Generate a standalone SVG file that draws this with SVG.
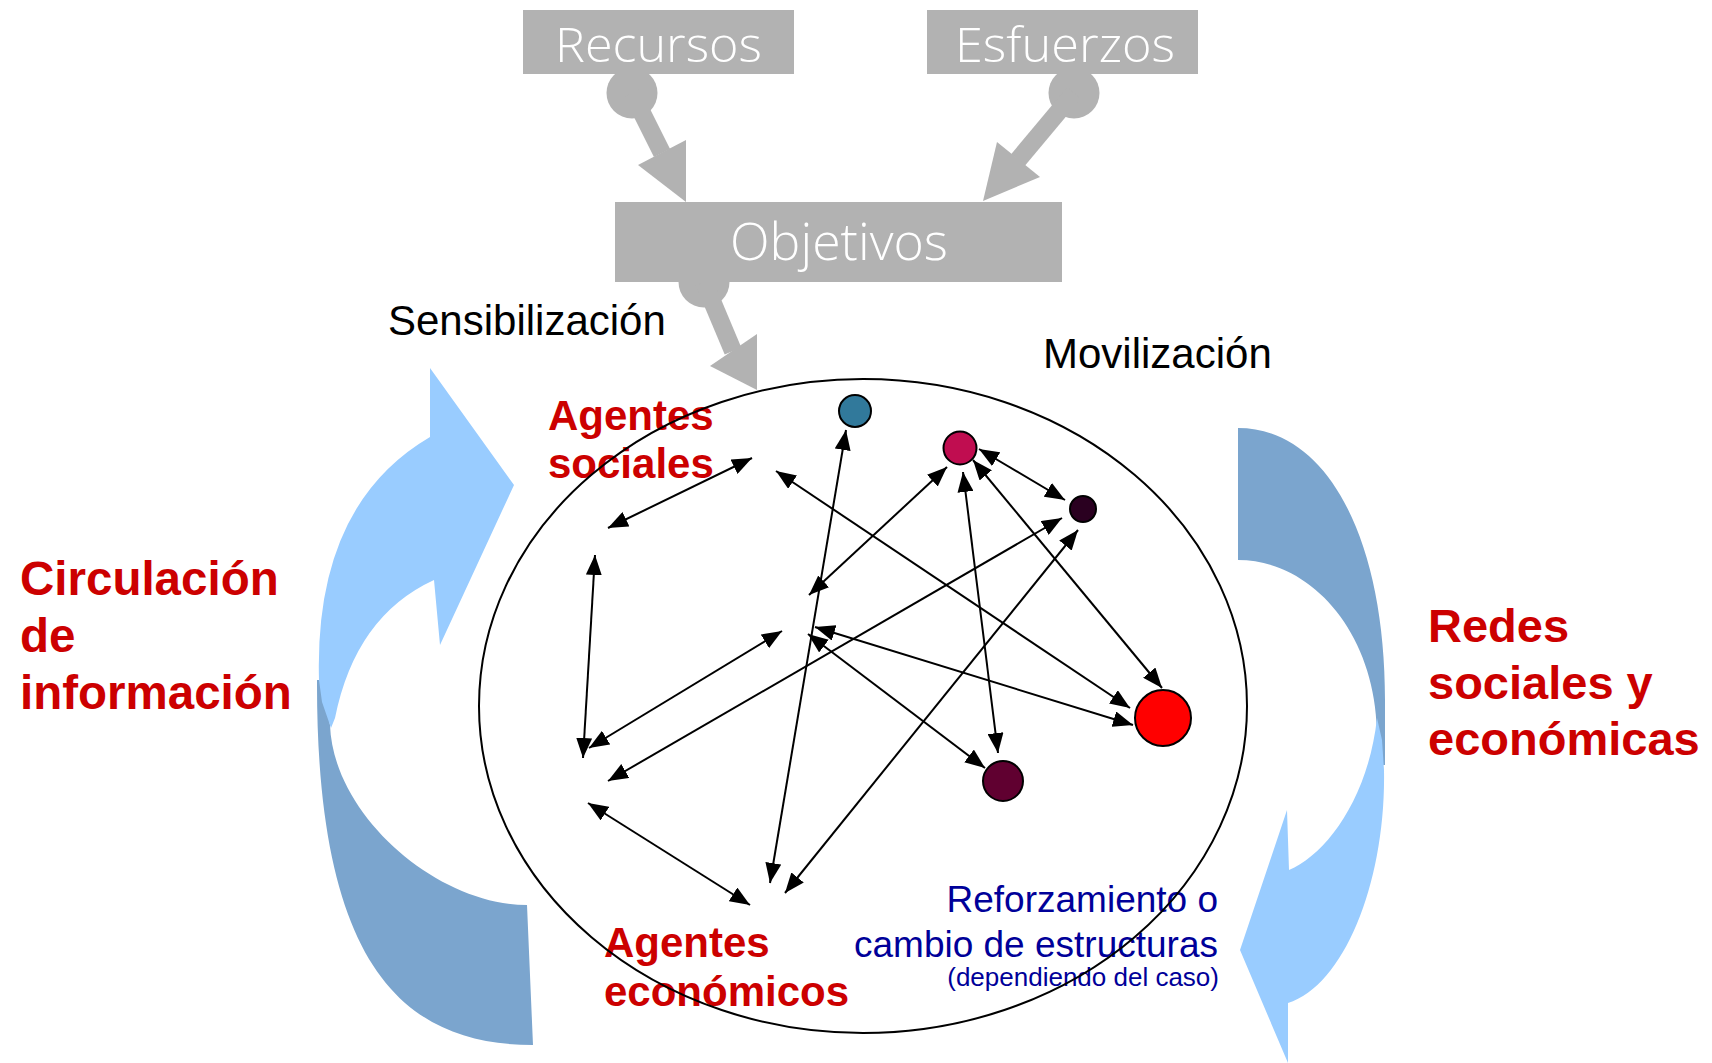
<svg xmlns="http://www.w3.org/2000/svg" width="1712" height="1063" viewBox="0 0 1712 1063">
<defs>
<style>
.box{fill:#B2B2B2}
.boxtxt{font-family:"Open Sans","Liberation Sans",sans-serif;font-weight:300;fill:#FFFFFF;text-anchor:middle}
.gshaft{stroke:#B2B2B2;stroke-width:18;fill:none}
.gfill{fill:#B2B2B2}
.red{font-family:"Liberation Sans",Arial,sans-serif;font-weight:bold;fill:#CC0000}
.blk{font-family:"Liberation Sans",Arial,sans-serif;fill:#000000;font-size:42px}
.blue{font-family:"Liberation Sans",Arial,sans-serif;fill:#000099;text-anchor:end}
.edge{stroke:#000;stroke-width:2;fill:none;marker-start:url(#ah);marker-end:url(#ah)}
.node{stroke:#000;stroke-width:2}
.light{fill:#99CCFF}
.dark{fill:#7BA5CE}
</style>
<marker id="ah" viewBox="0 0 20 16" refX="20" refY="8" markerWidth="20" markerHeight="16" markerUnits="userSpaceOnUse" orient="auto-start-reverse">
<path d="M0,0 L20,8 L0,16 Z" fill="#000"/>
</marker>
</defs>
<rect width="1712" height="1063" fill="#FFFFFF"/>

<g id="cycle-left">
<path class="dark" d="M317,680 L317,685 C317,965 403,1045 533,1045 L527,905 C437,905 333,815 330,725 L322,680 Z"/>
<path class="light" d="M331,728 L322,702 L319,680 Q314,505 430,437 L430,368 L514,485 L440,645 L434,580 Q355.5,616 335,718 Z"/>
</g>
<g id="cycle-right">
<path class="dark" d="M1238,428 C1328,428 1385,540 1385,700 L1385,765 L1380,765 L1377,730 C1374,630 1310,560 1238,560 Z"/>
<path class="light" d="M1377,718 L1382,740 L1384,770 C1386,880 1345,985 1288,1003 L1288,1063 L1240,950 L1287,810 L1289,870 C1325,855 1368,800 1377,718 Z"/>
</g>

<g id="gray-connectors">
<circle class="gfill" cx="632" cy="93" r="25.5"/>
<line class="gshaft" x1="632" y1="93" x2="662" y2="153"/>
<polygon class="gfill" points="686,202 638,165 686,140"/>
<circle class="gfill" cx="1074" cy="93" r="25.5"/>
<line class="gshaft" x1="1074" y1="93" x2="1018" y2="160"/>
<polygon class="gfill" points="983,201 997,142 1040,177"/>
<circle class="gfill" cx="704" cy="282" r="25.5"/>
<line class="gshaft" x1="704" y1="282" x2="733" y2="351"/>
<polygon class="gfill" points="757,390 710,366 757,334"/>
</g>

<g id="recursos">
<rect class="box" x="523" y="10" width="271" height="64"/>
<text class="boxtxt" x="658.5" y="62" font-size="48" textLength="207" lengthAdjust="spacingAndGlyphs">Recursos</text>
</g>
<g id="esfuerzos">
<rect class="box" x="927" y="10" width="271" height="64"/>
<text class="boxtxt" x="1065" y="62" font-size="48" textLength="220" lengthAdjust="spacingAndGlyphs">Esfuerzos</text>
</g>
<g id="objetivos">
<rect class="box" x="615" y="202" width="447" height="80"/>
<text class="boxtxt" x="839" y="260" font-size="52" textLength="218" lengthAdjust="spacingAndGlyphs">Objetivos</text>
</g>

<g id="labels">
<text class="blk" x="388" y="335">Sensibilización</text>
<text class="blk" x="1043" y="368">Movilización</text>
<text class="red" font-size="47.5"><tspan x="20" y="595">Circulación</tspan><tspan x="20" y="652">de</tspan><tspan x="20" y="709">información</tspan></text>
<text class="red" font-size="47"><tspan x="1428" y="642">Redes</tspan><tspan x="1428" y="699">sociales y</tspan><tspan x="1428" y="755">económicas</tspan></text>
<text class="red" font-size="42"><tspan x="548" y="430">Agentes</tspan><tspan x="548" y="478">sociales</tspan></text>
<text class="red" font-size="42"><tspan x="604" y="957">Agentes</tspan><tspan x="604" y="1006">económicos</tspan></text>
<text class="blue" font-size="37"><tspan x="1218" y="912">Reforzamiento o</tspan><tspan x="1218" y="957">cambio de estructuras</tspan></text>
<text class="blue" font-size="26" x="1219" y="986">(dependiendo del caso)</text>
</g>

<g id="ambito">
<ellipse cx="863" cy="706" rx="384" ry="327" fill="none" stroke="#000" stroke-width="2"/>
</g>

<g id="connectors">
<line class="edge" x1="846" y1="430" x2="770" y2="883"/>
<line class="edge" x1="979" y1="449" x2="1065" y2="500"/>
<line class="edge" x1="973" y1="460" x2="1162" y2="688"/>
<line class="edge" x1="963" y1="472" x2="998" y2="753"/>
<line class="edge" x1="947" y1="467" x2="809" y2="595"/>
<line class="edge" x1="776" y1="471" x2="1130" y2="708"/>
<line class="edge" x1="815" y1="627" x2="1133" y2="725"/>
<line class="edge" x1="808" y1="634" x2="985" y2="768"/>
<line class="edge" x1="608" y1="781" x2="1062" y2="518"/>
<line class="edge" x1="785" y1="893" x2="1078" y2="530"/>
<line class="edge" x1="752" y1="458" x2="608" y2="528"/>
<line class="edge" x1="595" y1="555" x2="583" y2="758"/>
<line class="edge" x1="782" y1="631" x2="589" y2="748"/>
<line class="edge" x1="588" y1="803" x2="750" y2="905"/>
</g>

<g id="node-blue"><circle class="node" cx="855" cy="411" r="16" fill="#31799B"/></g>
<g id="node-magenta"><circle class="node" cx="960" cy="448" r="16.5" fill="#C00D50"/></g>
<g id="node-darkpurple"><circle class="node" cx="1083" cy="509" r="13" fill="#2A0020"/></g>
<g id="node-red"><circle class="node" cx="1163" cy="718" r="28" fill="#FF0000"/></g>
<g id="node-maroon"><circle class="node" cx="1003" cy="781" r="20" fill="#600030"/></g>
</svg>
